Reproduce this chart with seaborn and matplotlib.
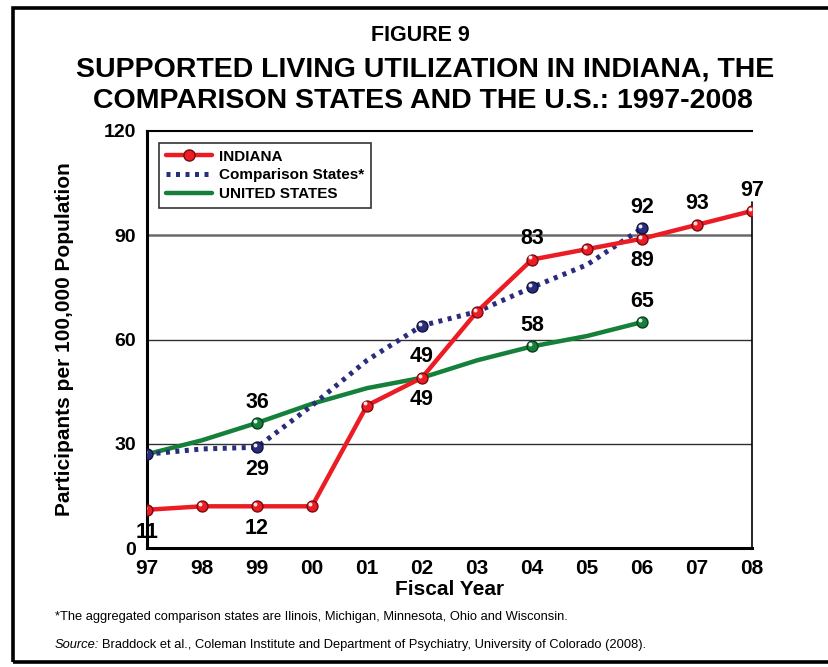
import matplotlib
matplotlib.use("Agg")
import matplotlib.pyplot as plt
import matplotlib.patches as mpatches
from matplotlib.lines import Line2D
from matplotlib.transforms import offset_copy
import pandas as pd
import numpy as np
import seaborn as sns

years = ["97", "98", "99", "00", "01", "02", "03", "04", "05", "06", "07", "08"]
indiana = [11, 12, 12, 12, 41, 49, 68, 83, 86, 89, 93, 97]
comparison = [27, 28.5, 29, 41, 54, 64, 68, 75, 81.5, 92]
united_states = [27, 31, 36, 41.5, 46, 49, 54, 58, 61, 65]

# which points carry a ball marker
indiana_marks = list(range(12))
comparison_marks = [0, 2, 5, 7, 9]
us_marks = [2, 7, 9]

# value labels: (series, year index, text, above?)
labels = [
    ("INDIANA", 0, "11", False),
    ("INDIANA", 2, "12", False),
    ("Comparison States*", 2, "29", False),
    ("UNITED STATES", 2, "36", True),
    ("UNITED STATES", 5, "49", True),
    ("INDIANA", 5, "49", False),
    ("INDIANA", 7, "83", True),
    ("UNITED STATES", 7, "58", True),
    ("Comparison States*", 9, "92", True),
    ("INDIANA", 9, "89", False),
    ("UNITED STATES", 9, "65", True),
    ("INDIANA", 10, "93", True),
    ("INDIANA", 11, "97", True),
]

series = {"INDIANA": indiana, "Comparison States*": comparison,
          "UNITED STATES": united_states}
rows = []
for name, vals in series.items():
    for i, v in enumerate(vals):
        rows.append({"year": i, "value": v, "series": name})
df = pd.DataFrame(rows)

colors = {"INDIANA": "#ec1c24", "Comparison States*": "#2a2d7c",
          "UNITED STATES": "#14803a"}
edges = {"INDIANA": "#7a0a0e", "Comparison States*": "#10123a",
         "UNITED STATES": "#0b3d1c"}

sns.set_style("white")
plt.rcParams["font.family"] = ["Liberation Sans", "DejaVu Sans"]
plt.rcParams["font.weight"] = "bold"
plt.rcParams["text.color"] = "black"
plt.rcParams["axes.labelcolor"] = "black"
plt.rcParams["xtick.color"] = "black"
plt.rcParams["ytick.color"] = "black"

fig = plt.figure(figsize=(8.29, 6.67), dpi=100)
ax = fig.add_axes([0.1773, 0.1784, 0.7298, 0.6252])

for name in ["UNITED STATES", "Comparison States*", "INDIANA"]:
    sub = df[df["series"] == name]
    if name == "Comparison States*":
        sns.lineplot(data=sub, x="year", y="value", ax=ax, color=colors[name],
                     lw=3.6, linestyle=(0, (0.8, 1.1)), dash_capstyle="butt",
                     zorder=3)
    else:
        sns.lineplot(data=sub, x="year", y="value", ax=ax, color=colors[name],
                     lw=3.2, zorder=3 if name == "UNITED STATES" else 4)

marks = {"INDIANA": indiana_marks, "Comparison States*": comparison_marks,
         "UNITED STATES": us_marks}
hl = offset_copy(ax.transData, fig=fig, x=-1.2, y=1.5, units="points")
for name, idx in marks.items():
    vals = series[name]
    xs = idx
    ys = [vals[i] for i in idx]
    ax.scatter(xs, ys, s=62, color=colors[name], edgecolor=edges[name],
               linewidth=1.0, zorder=6)
    ax.scatter(xs, ys, s=8, color="white", linewidth=0, zorder=7,
               alpha=0.9, transform=hl)

for name, i, txt, above in labels:
    y = series[name][i]
    ax.annotate(txt, (i, y), xytext=(0, 15 if above else -16),
                textcoords="offset points", ha="center", va="center",
                fontsize=15.5, fontweight="bold", zorder=8)

ax.set_xlim(0, 11)
ax.set_ylim(0, 120)
ax.set_yticks([0, 30, 60, 90, 120])
ax.set_yticklabels(["0", "30", "60", "90", "120"])
ax.set_xticks(range(12))
ax.set_xticklabels(years)
for y in [30, 60, 90]:
    ax.axhline(y, color="#6a6a6a" if y == 90 else "#303030",
               lw=1.8 if y == 90 else 1.0, zorder=1)
ax.plot([11, 11], [0, 99.5], color="black", lw=1.2, zorder=2, clip_on=False)

ax.tick_params(axis="y", length=0, pad=8, labelsize=14)
ax.tick_params(axis="x", direction="in", length=6, width=1, color="#777777",
               labelcolor="black", pad=8, labelsize=15)
for lab in ax.get_xticklabels() + ax.get_yticklabels():
    lab.set_fontweight("bold")

for s in ["left", "bottom", "top"]:
    ax.spines[s].set_visible(True)
    ax.spines[s].set_color("black")
ax.spines["left"].set_linewidth(2.2)
ax.spines["bottom"].set_linewidth(2.2)
ax.spines["top"].set_linewidth(1.5)
ax.spines["right"].set_visible(False)

ax.set_xlabel("Fiscal Year", fontsize=15, fontweight="bold", labelpad=1)
ax.set_ylabel("Participants per 100,000 Population", fontsize=15,
              fontweight="bold", labelpad=21)

handles = [
    Line2D([0], [0], color=colors["INDIANA"], lw=3.2, marker="o",
           markersize=8, markerfacecolor=colors["INDIANA"],
           markeredgecolor=edges["INDIANA"]),
    Line2D([0], [0], color=colors["Comparison States*"], lw=3.6,
           linestyle=(0, (0.8, 1.1)), dash_capstyle="butt"),
    Line2D([0], [0], color=colors["UNITED STATES"], lw=3.2),
]
leg = ax.legend(handles, list(series.keys()), loc="upper left",
                bbox_to_anchor=(0.008, 0.99), frameon=True, fancybox=False,
                handlelength=3.0, handletextpad=0.45, labelspacing=0.3,
                borderpad=0.45, prop={"weight": "bold", "size": 11})
leg.get_frame().set_edgecolor("black")
leg.get_frame().set_linewidth(1.2)

fig.text(0.507, 0.947, "FIGURE 9", ha="center", va="center",
         fontsize=15.5, fontweight="bold")
fig.text(0.513, 0.896, "SUPPORTED LIVING UTILIZATION IN INDIANA, THE",
         ha="center", va="center", fontsize=20.5, fontweight="bold")
fig.text(0.510, 0.849, "COMPARISON STATES AND THE U.S.: 1997-2008",
         ha="center", va="center", fontsize=20.5, fontweight="bold")

fig.text(0.066, 0.075,
         "*The aggregated comparison states are Ilinois, Michigan, Minnesota, Ohio and Wisconsin.",
         fontsize=9.3, fontweight="normal", va="center")
src = fig.text(0.066, 0.033, "Source:", fontsize=9.3, fontweight="normal",
               style="italic", va="center")
fig.canvas.draw()
bb = src.get_window_extent().transformed(fig.transFigure.inverted())
fig.text(bb.x1 + 0.004, 0.033,
         "Braddock et al., Coleman Institute and Department of Psychiatry, University of Colorado (2008).",
         fontsize=9.3, fontweight="normal", va="center")

fig.patches.append(mpatches.Rectangle((0.016, 0.008), 1.0, 0.98,
                                      transform=fig.transFigure, fill=False,
                                      edgecolor="black", lw=2.6))

fig.savefig("out.png", dpi=100)
